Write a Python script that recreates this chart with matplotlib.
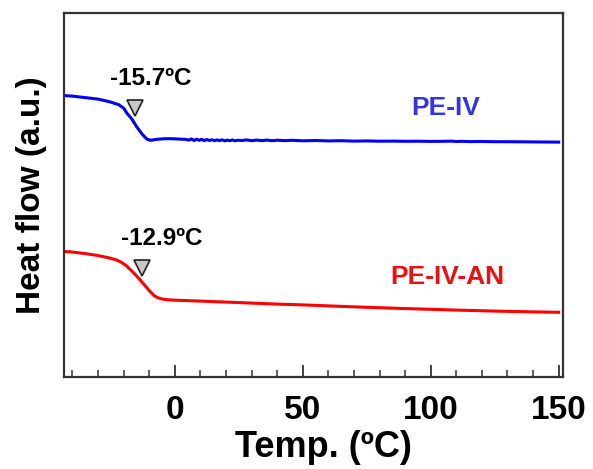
import matplotlib
matplotlib.use("Agg")
import matplotlib.pyplot as plt
from matplotlib.ticker import MultipleLocator

# Temperature (ºC) and heat flow (a.u.) for the two samples
pe_iv_temp = [-43, -40, -35, -30, -25.4, -22, -20, -18.75, -16.8, -14.8, -12.8, -10.9, -9.5,
              -7, -4, -1, 2, 4, 5.5, 6.5, 7.5, 8.5, 9.5, 10.5, 11.5, 12.5, 13.5, 14.5, 15.5, 16.5,
              17.5, 18.5, 19.5, 20.5, 21.5, 22.5, 23.5, 24.5, 26, 28, 30, 32, 34, 36, 38, 40, 43,
              46, 50, 55, 60, 65, 70, 75, 80, 85, 90, 95, 100, 105, 108, 110, 112, 115, 120, 125,
              130, 135, 140, 145, 150]
pe_iv_flow = [28.15, 28.1, 27.95, 27.8, 27.53, 27.25, 26.9, 26.4, 25.8, 25.0, 24.3, 23.8, 23.68,
              23.78, 23.84, 23.84, 23.8, 23.78, 23.7, 23.82, 23.66, 23.8, 23.68, 23.78, 23.65, 23.76, 23.66, 23.74, 23.64, 23.72,
              23.65, 23.73, 23.62, 23.7, 23.64, 23.72, 23.63, 23.69, 23.66, 23.72, 23.64, 23.7, 23.65, 23.7, 23.64, 23.69, 23.65,
              23.68, 23.63, 23.66, 23.62, 23.64, 23.6, 23.62, 23.59, 23.6, 23.58, 23.59, 23.57, 23.58, 23.6, 23.56, 23.58, 23.55, 23.56, 23.54,
              23.54, 23.53, 23.52, 23.51, 23.5]

pe_iv_an_temp = [-43, -41, -35, -30, -25.4, -23, -21, -19, -17.6, -16, -14, -12, -10, -8, -6.5, -5, -3, 0,
                 10, 25, 40, 50, 60, 75, 90, 100, 110, 125, 140, 150]
pe_iv_an_flow = [12.55, 12.53, 12.35, 12.15, 11.9, 11.73, 11.5, 11.15, 10.8, 10.4, 9.85, 9.25, 8.65, 8.12, 7.92, 7.81, 7.74, 7.69,
                 7.6, 7.45, 7.3, 7.22, 7.12, 6.98, 6.85, 6.78, 6.7, 6.6, 6.52, 6.48]

# Glass transition markers
tg_temp = [-15.7, -12.9]
tg_flow = [26.9, 10.9]
tg_text = ["-15.7ºC", "-12.9ºC"]
tg_text_pos = [(-9.5, 29.9), (-5.0, 13.9)]

series_names = ["PE-IV", "PE-IV-AN"]
series_colors = ["#0000ff", "#ff0000"]
name_colors = ["#3535e0", "#ee1010"]
name_pos = [(106, 26.9), (106.5, 10.0)]

plt.rcParams["font.family"] = ["Liberation Sans", "DejaVu Sans"]
plt.rcParams["font.weight"] = "bold"

fig = plt.figure(figsize=(5.93, 4.69), dpi=100)
ax = fig.add_axes([0.108, 0.196, 0.841, 0.776])

ax.plot(pe_iv_temp, pe_iv_flow, color=series_colors[0], lw=2.2)
ax.plot(pe_iv_an_temp, pe_iv_an_flow, color=series_colors[1], lw=2.2)

ax.plot(tg_temp, tg_flow, linestyle="none", marker="v", markersize=11,
        markerfacecolor="#c8c8c8", markeredgecolor="#222222", markeredgewidth=1.2)
for txt, (tx, ty) in zip(tg_text, tg_text_pos):
    ax.text(tx, ty, txt, ha="center", va="center", fontsize=17.5, fontweight="bold")

for name, col, (nx, ny) in zip(series_names, name_colors, name_pos):
    ax.text(nx, ny, name, ha="center", va="center", fontsize=19, fontweight="bold", color=col)

ax.set_xlim(-43.3, 151.6)
ax.set_ylim(0, 36.4)
ax.xaxis.set_major_locator(MultipleLocator(50))
ax.xaxis.set_minor_locator(MultipleLocator(10))
ax.set_yticks([])
ax.tick_params(axis="x", which="major", direction="in", length=9, width=1.3, color="#333333",
               labelsize=24, pad=13)
ax.tick_params(axis="x", which="minor", direction="in", length=5, width=1.1, color="#333333")
for lbl in ax.get_xticklabels():
    lbl.set_fontweight("bold")
for sp in ax.spines.values():
    sp.set_color("#333333")
    sp.set_linewidth(1.6)

ax.set_xlabel("Temp. (ºC)", fontsize=26, fontweight="bold")
ax.xaxis.set_label_coords(0.52, -0.145)
ax.set_ylabel("Heat flow (a.u.)", fontsize=24, fontweight="bold", labelpad=12)

fig.savefig("out.png", dpi=100)
